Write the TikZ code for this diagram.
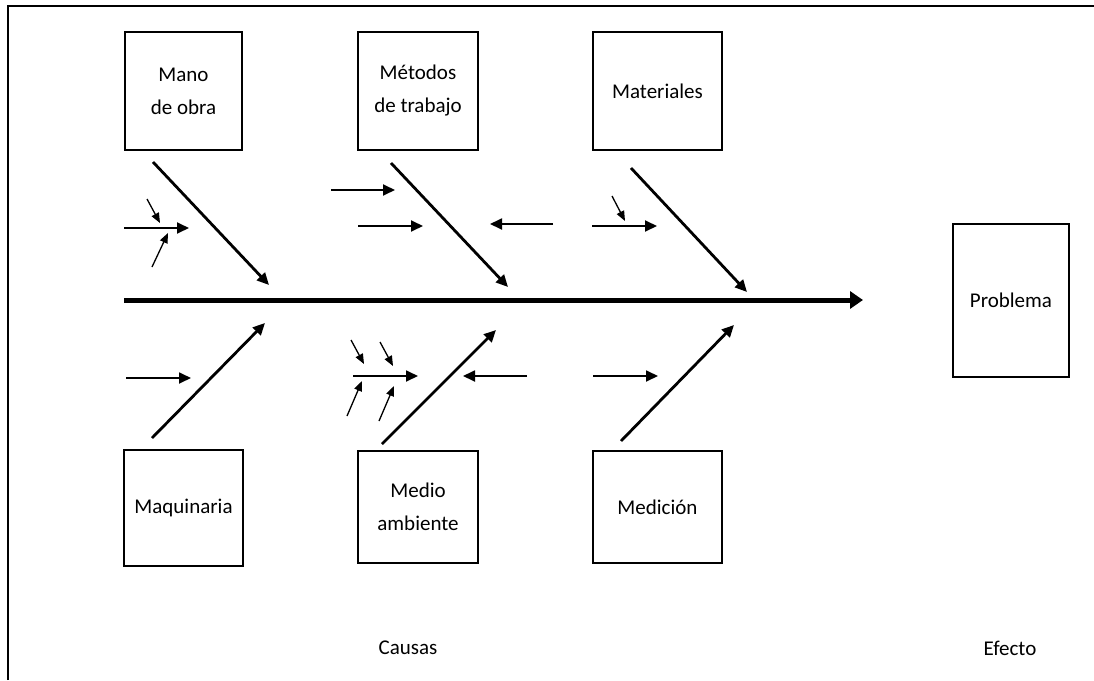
\documentclass[tikz,border=0pt]{standalone}
\usepackage{fontspec}
\setmainfont{Carlito}
\usetikzlibrary{arrows.meta}

\begin{document}
\begin{tikzpicture}[x=1pt,y=-1pt,
  caja/.style={draw,line width=1.4pt,inner sep=0pt,align=center,font=\fontsize{21}{33}\selectfont},
  espina/.style={line width=5pt,-{Triangle[length=13pt,width=17pt]}},
  rama/.style={line width=2.8pt,-{Triangle[length=12pt,width=11pt]}},
  sub/.style={line width=1.8pt,-{Triangle[length=12pt,width=11pt]}},
  subsub/.style={line width=1.3pt,-{Triangle[length=10pt,width=8pt]}},
  rotulo/.style={font=\fontsize{21}{33}\selectfont}]
\path[use as bounding box] (0,0) rectangle (1094,680);
\draw [line width=1.3pt] (8,680) -- (8,6) -- (1094,6);

% Cajas
\node[caja,minimum width=117pt,minimum height=118pt] (mano) at (183.5,91) {Mano\\de obra};
\node[caja,minimum width=120pt,minimum height=118pt] (metodos) at (418,91) {Métodos\\de trabajo};
\node[caja,minimum width=129pt,minimum height=118pt] (materiales) at (657.5,91) {Materiales};
\node[caja,minimum width=119pt,minimum height=116pt] (maquinaria) at (183.5,508) {Maquinaria};
\node[caja,minimum width=120pt,minimum height=112pt] (medio) at (418,507) {Medio\\ambiente};
\node[caja,minimum width=129pt,minimum height=112pt] (medicion) at (657.5,507) {Medición};
\node[caja,minimum width=116pt,minimum height=153pt] (problema) at (1011,300.5) {Problema};

\node[rotulo] (causas) at (408,648) {Causas};
\node[rotulo] (efecto) at (1010,648) {Efecto};

% Espina
\coordinate (cola) at (124,300);
\coordinate (cabeza) at (863,300);
\draw [espina] (cola) -- (cabeza);

% Ramas
\coordinate (m1) at (153,162);   \coordinate (m2) at (269,285);
\coordinate (t1) at (391,163);   \coordinate (t2) at (508,287);
\coordinate (a1) at (631,168);   \coordinate (a2) at (747,292);
\coordinate (q1) at (152,438);   \coordinate (q2) at (265,323);
\coordinate (d1) at (382,444);   \coordinate (d2) at (496,330);
\coordinate (c1) at (621,441);   \coordinate (c2) at (734,325);
\draw [rama] (m1) -- (m2);
\draw [rama] (t1) -- (t2);
\draw [rama] (a1) -- (a2);
\draw [rama] (q1) -- (q2);
\draw [rama] (d1) -- (d2);
\draw [rama] (c1) -- (c2);

% Flechas
\draw [sub] (124,228) -- (189,228);
\draw [subsub] (147,199) -- (160,223);
\draw [subsub] (152,267) -- (168,233);
\draw [sub] (331,190) -- (395,190);
\draw [sub] (358,226) -- (423,226);
\draw [sub] (553,224) -- (490,224);
\draw [sub] (592,226) -- (657,226);
\draw [subsub] (612,196) -- (625,221);
\draw [sub] (126,378) -- (191,378);
\draw [sub] (353,376) -- (418,376);
\draw [subsub] (351,340) -- (364,364);
\draw [subsub] (380,342) -- (393,366);
\draw [subsub] (347,416) -- (362,381);
\draw [subsub] (379,421) -- (394,386);
\draw [sub] (527,376) -- (463,376);
\draw [sub] (593,376) -- (658,376);
\end{tikzpicture}
\end{document}
